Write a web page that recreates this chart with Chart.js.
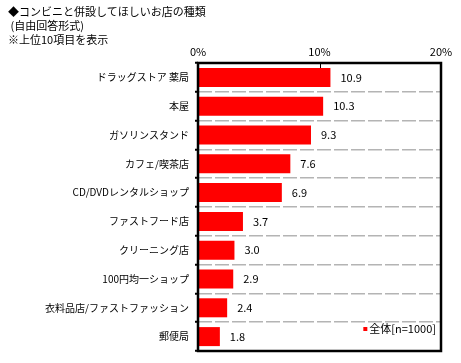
<!DOCTYPE html>
<html>
<head>
<meta charset="utf-8">
<script src="https://cdn.jsdelivr.net/npm/chart.js@4/dist/chart.umd.min.js"></script>
<style>
  body { margin: 0; background: #fff; }
  #wrap { position: relative; width: 461px; height: 363px; }
  #head {
    position: absolute; left: 8px; top: 4px;
    font: 11px "Noto Sans CJK JP", sans-serif; line-height: 14px; color: #000;
  }
  canvas { position: absolute; left: 0; top: 0; }
</style>
</head>
<body>
<div id="wrap">
  <canvas id="mainchart" width="461" height="363"></canvas>
  <div id="head">◆コンビニと併設してほしいお店の種類<br>&nbsp;(自由回答形式)<br>※上位10項目を表示</div>
</div>
<script>
// categories and values
var shops = ['ドラッグストア 薬局', '本屋', 'ガソリンスタンド', 'カフェ/喫茶店', 'CD/DVDレンタルショップ',
  'ファストフード店', 'クリーニング店', '100円均一ショップ', '衣料品店/ファストファッション', '郵便局'];
var percents = [10.9, 10.3, 9.3, 7.6, 6.9, 3.7, 3.0, 2.9, 2.4, 1.8];
var seriesName = '全体[n=1000]';
var axisTicks = [0, 10, 20];

var jpFont = '"Noto Sans CJK JP", sans-serif';

// numbers written after each bar
var valueLabels = {
  id: 'valueLabels',
  afterDatasetsDraw: function (chart) {
    var ctx = chart.ctx;
    var meta = chart.getDatasetMeta(0);
    ctx.save();
    ctx.font = '11px ' + jpFont;
    ctx.fillStyle = '#000';
    ctx.textAlign = 'left';
    ctx.textBaseline = 'middle';
    meta.data.forEach(function (bar, i) {
      ctx.fillText(percents[i].toFixed(1), bar.x + 10, bar.y);
    });
    ctx.restore();
  }
};

// heavy frame, little tick on top and the legend inside the plot
var frame = {
  id: 'frame',
  afterDraw: function (chart) {
    var ctx = chart.ctx;
    var a = chart.chartArea;
    var xs = chart.scales.x;
    ctx.save();
    ctx.strokeStyle = '#000';
    ctx.lineWidth = 2.5;
    ctx.strokeRect(a.left, a.top, a.right - a.left, a.bottom - a.top);
    ctx.lineWidth = 1;
    var mx = Math.round(xs.getPixelForValue(10)) + 0.5;
    ctx.beginPath();
    ctx.moveTo(mx, a.top);
    ctx.lineTo(mx, a.top + 5);
    ctx.stroke();

    ctx.font = '11px ' + jpFont;
    ctx.textAlign = 'right';
    ctx.textBaseline = 'middle';
    var ly = a.bottom - 22;
    var tx = a.right - 5;
    var w = ctx.measureText(seriesName).width;
    ctx.fillStyle = chart.data.datasets[0].backgroundColor;
    ctx.fillRect(tx - w - 6, ly - 2, 4, 4);
    ctx.fillStyle = '#000';
    ctx.fillText(seriesName, tx, ly);
    ctx.restore();
  }
};

var ctx = document.getElementById('mainchart').getContext('2d');
var chart = new Chart(ctx, {
  type: 'bar',
  data: {
    labels: shops,
    datasets: [{
      label: seriesName,
      data: percents,
      backgroundColor: '#ff0000',
      borderWidth: 0,
      barPercentage: 0.66,
      categoryPercentage: 1
    }]
  },
  options: {
    indexAxis: 'y',
    responsive: false,
    animation: false,
    layout: { padding: { left: 0, right: 20, top: 0, bottom: 11 } },
    plugins: {
      legend: { display: false },
      title: { display: false },
      tooltip: { enabled: false }
    },
    scales: {
      x: {
        position: 'top',
        min: 0,
        max: 20,
        afterBuildTicks: function (scale) {
          scale.ticks = axisTicks.map(function (v) { return { value: v }; });
        },
        afterFit: function (scale) { scale.height = 63; },
        grid: { display: false, drawTicks: false },
        border: { display: false },
        ticks: {
          padding: 5,
          color: '#000',
          font: { family: jpFont, size: 11 },
          maxRotation: 0,
          callback: function (v) { return v + '%'; }
        }
      },
      y: {
        afterFit: function (scale) { scale.width = 198; },
        grid: {
          offset: true,
          color: '#b4b4b4',
          lineWidth: 1.5,
          drawTicks: true,
          tickLength: 3,
          tickColor: '#000',
          tickWidth: 2
        },
        border: { display: false, dash: [14, 3] },
        ticks: {
          padding: 6,
          color: '#000',
          autoSkip: false,
          font: { family: jpFont, size: 10 }
        }
      }
    }
  },
  plugins: [valueLabels, frame]
});
</script>
</body>
</html>
